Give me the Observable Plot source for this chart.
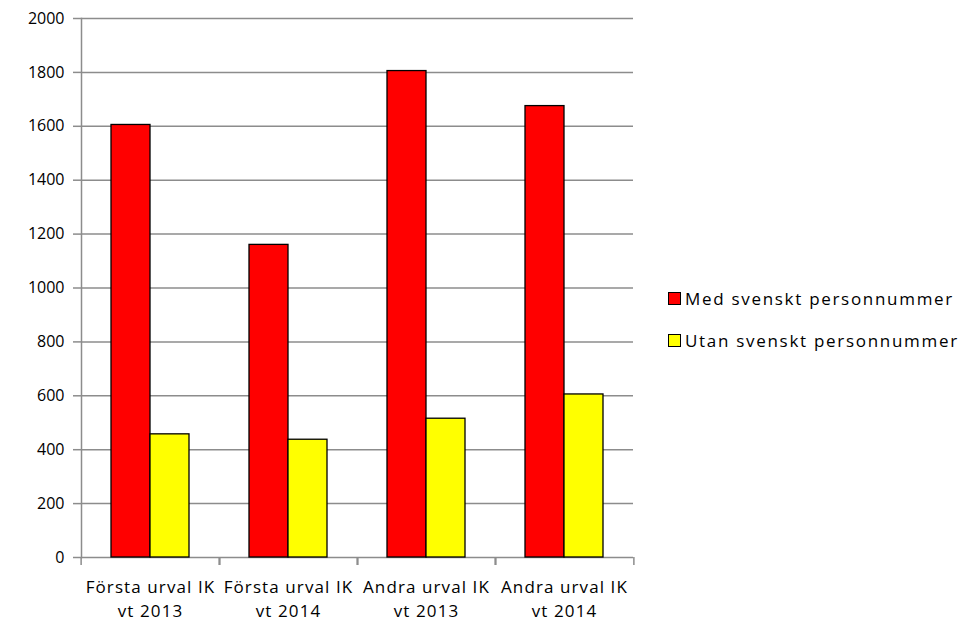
<!DOCTYPE html>
<html>
<head>
<meta charset="utf-8">
<script src="https://cdn.jsdelivr.net/npm/d3@7"></script>
<script src="https://cdn.jsdelivr.net/npm/@observablehq/plot@0.6"></script>
<style>
  html, body { margin: 0; padding: 0; background: #fff; }
  #wrap { position: relative; width: 964px; height: 625px; font-family: "Open Sans", sans-serif; }
  #legend { position: absolute; left: 668px; top: 286px; font-size: 17px; color: #000; }
  .item { display: flex; align-items: center; height: 24px; margin-bottom: 18px; white-space: nowrap; letter-spacing: 1.7px; }
  .sw { width: 11px; height: 11px; border: 1px solid #000; margin-right: 4px; }
</style>
</head>
<body>
<div id="wrap"><div id="chart"></div><div id="legend"></div></div>
<script>
const categories = ["Första urval IK\nvt 2013", "Första urval IK\nvt 2014", "Andra urval IK\nvt 2013", "Andra urval IK\nvt 2014"];
const seriesNames = ["Med svenskt personnummer", "Utan svenskt personnummer"];
const medValues = [1605, 1160, 1805, 1675];
const utanValues = [457, 437, 515, 605];
const seriesColors = ["#ff0000", "#ffff00"];
const yTicks = [0, 200, 400, 600, 800, 1000, 1200, 1400, 1600, 1800, 2000];

const data = categories.flatMap((c, i) => [
  {cat: c, series: seriesNames[0], value: medValues[i]},
  {cat: c, series: seriesNames[1], value: utanValues[i]}
]);

const W = 640, ML = 79, MR = 6;
const step = (W - ML - MR) / categories.length;
const gray = "#8c8c8c";

const chart = Plot.plot({
  width: W,
  height: 625,
  marginLeft: ML,
  marginRight: MR,
  marginTop: 18,
  marginBottom: 68,
  style: {fontFamily: "Open Sans, sans-serif", fontSize: "16px", color: "#000", background: "transparent"},
  y: {domain: [0, 2000]},
  fx: {domain: categories, paddingInner: 0, paddingOuter: 0, label: null},
  x: {domain: seriesNames, paddingInner: 0, paddingOuter: 0.76, axis: null},
  color: {domain: seriesNames, range: seriesColors},
  marks: [
    Plot.gridY(yTicks, {stroke: gray, strokeOpacity: 1, strokeWidth: 1.5}),
    Plot.barY(data, {fx: "cat", x: "series", y: "value", fill: "series", stroke: "#000", strokeWidth: 1.3}),
    Plot.axisY(yTicks, {anchor: "left", tickSize: 8, tickPadding: 9, stroke: gray, strokeWidth: 1.5, fill: "#000", fontSize: 16, label: null, tickFormat: d => String(d)}),
    Plot.frame({anchor: "left", facetAnchor: "left", stroke: gray, strokeWidth: 1.5}),
    Plot.axisFx({anchor: "bottom", tickSize: 8, text: null, dx: -step / 2, stroke: gray, strokeWidth: 1.5, label: null}),
    Plot.axisFx([categories[categories.length - 1]], {anchor: "bottom", tickSize: 8, text: null, dx: step / 2, stroke: gray, strokeWidth: 1.5, label: null}),
    Plot.axisFx({anchor: "bottom", tickSize: 0, tickPadding: 18, fontSize: 17, lineHeight: 1.42, fill: "#000", label: null})
  ]
});
document.getElementById("chart").appendChild(chart);
chart.querySelectorAll("g[aria-label='fx-axis tick label'] text").forEach(t => t.style.letterSpacing = "1.1px");

const legend = document.getElementById("legend");
seriesNames.forEach((name, i) => {
  const item = document.createElement("div");
  item.className = "item";
  const sw = document.createElement("div");
  sw.className = "sw";
  sw.style.background = seriesColors[i];
  const label = document.createElement("span");
  label.textContent = name;
  item.appendChild(sw);
  item.appendChild(label);
  legend.appendChild(item);
});
</script>
</body>
</html>
